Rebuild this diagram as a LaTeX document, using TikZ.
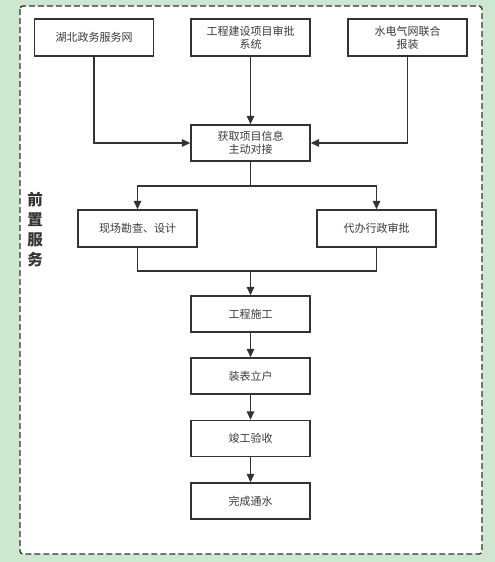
\documentclass[tikz,border=0pt]{standalone}
\usepackage{fontspec}
\setmainfont{Noto Sans CJK SC}
\usetikzlibrary{arrows.meta}
\definecolor{bggreen}{HTML}{CDE8CF}
\definecolor{ink}{HTML}{333333}
\definecolor{txt}{HTML}{3A3A3A}
\tikzset{
  stepbox/.style={draw=ink, line width=1.4pt, fill=white, minimum width=119pt, minimum height=37pt, inner sep=0pt, align=center, text=txt, font=\fontsize{11}{13}\selectfont},
  conn/.style={draw=ink, line width=1.4pt},
  arr/.style={conn, -{Triangle[length=8.5pt,width=7.5pt]}},
}
\begin{document}
\begin{tikzpicture}[x=1pt,y=-1pt]
\useasboundingbox (0,0) rectangle (495,562);
\fill[bggreen] (0,0) rectangle (495,562);
\draw[draw=ink, fill=white, line width=1.4pt, dash pattern=on 6pt off 3pt, rounded corners=3pt] (20,6) rectangle (482,554);

\node[stepbox] (hb) at (94,37.5) {湖北政务服务网};
\node[stepbox] (gc) at (250.5,37.5) {工程建设项目审批\\系统};
\node[stepbox] (sd) at (407.5,37.5) {水电气网联合\\报装};
\node[stepbox, minimum height=36pt] (get) at (250.5,143) {获取项目信息\\主动对接};
\node[stepbox] (xc) at (137.5,228.5) {现场勘查、设计};
\node[stepbox] (db) at (376.5,228.5) {代办行政审批};
\node[stepbox, minimum height=36pt] (sg) at (250.5,314) {工程施工};
\node[stepbox, minimum height=36pt] (zb) at (250.5,376) {装表立户};
\node[stepbox, minimum height=36pt] (jg) at (250.5,438.5) {竣工验收};
\node[stepbox, minimum height=36pt] (wc) at (250.5,501) {完成通水};

\node[text=ink, font=\fontsize{15.5}{20}\selectfont\bfseries, align=center, inner sep=0pt] (lbl) at (35,230) {前\\置\\服\\务};

\coordinate (split) at (250.5,186);
\coordinate (merge) at (250.5,271);

\draw[arr] (hb.south) |- (get.west);
\draw[arr] (sd.south) |- (get.east);
\draw[arr] (gc.south) -- (get.north);
\draw[conn] (get.south) -- (split);
\draw[arr] (split) -| (xc.north);
\draw[arr] (split) -| (db.north);
\draw[conn] (xc.south) |- (merge);
\draw[conn] (db.south) |- (merge);
\draw[arr] (merge) -- (sg.north);
\draw[arr] (sg.south) -- (zb.north);
\draw[arr] (zb.south) -- (jg.north);
\draw[arr] (jg.south) -- (wc.north);
\end{tikzpicture}
\end{document}
